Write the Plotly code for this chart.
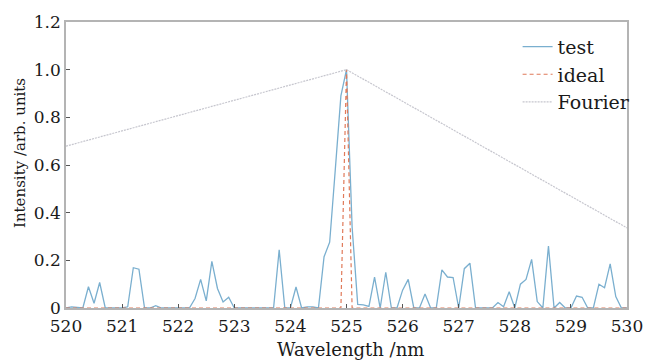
import plotly.graph_objects as go

wavelength = [round(520 + 0.1 * i, 1) for i in range(101)]
test = [
    0.0, 0.005, 0.003, 0.0, 0.089, 0.02, 0.107, 0.0, 0.0, 0.0,      # 520.0-520.9
    0.0, 0.005, 0.169, 0.163, 0.0, 0.0, 0.01, 0.0, 0.0, 0.0,        # 521.0-521.9
    0.0, 0.0, 0.0, 0.04, 0.12, 0.03, 0.196, 0.082, 0.025, 0.045,    # 522.0-522.9
    0.0, 0.0, 0.0, 0.0, 0.003, 0.0, 0.0, 0.0, 0.244, 0.0,           # 523.0-523.9
    0.0, 0.088, 0.0, 0.005, 0.005, 0.0, 0.215, 0.276, 0.58, 0.89,   # 524.0-524.9
    1.0, 0.34, 0.015, 0.013, 0.007, 0.13, 0.0, 0.15, 0.0, 0.0,      # 525.0-525.9
    0.075, 0.12, 0.0, 0.0, 0.059, 0.0, 0.0, 0.16, 0.13, 0.128,      # 526.0-526.9
    0.0, 0.165, 0.188, 0.0, 0.0, 0.0, 0.0, 0.023, 0.005, 0.068,     # 527.0-527.9
    0.0, 0.1, 0.12, 0.204, 0.027, 0.0, 0.26, 0.0, 0.023, 0.0,       # 528.0-528.9
    0.0, 0.05, 0.045, 0.0, 0.0, 0.1, 0.085, 0.185, 0.048, 0.0,      # 529.0-529.9
    0.0,                                                            # 530.0
]

ideal_x = [520, 524.9, 525.0, 525.1, 530]
ideal_y = [0, 0, 1.0, 0, 0]

fourier_x = [520, 525, 530]
fourier_y = [0.679, 1.0, 0.336]

y_ticks = [0, 0.2, 0.4, 0.6, 0.8, 1.0, 1.2]
y_ticktext = ["0", "0.2", "0.4", "0.6", "0.8", "1.0", "1.2"]
x_ticks = [520, 521, 522, 523, 524, 525, 526, 527, 528, 529, 530]

FONT = "DejaVu Serif"
TXT = "#1a1a1a"

fig = go.Figure()
fig.add_trace(go.Scatter(x=wavelength, y=test, mode="lines", name="test",
                         line=dict(color="#7aafcf", width=1.3)))
fig.add_trace(go.Scatter(x=ideal_x, y=ideal_y, mode="lines", name="ideal",
                         line=dict(color="#e07a5a", width=1.2, dash="4px,3px")))
fig.add_trace(go.Scatter(x=fourier_x, y=fourier_y, mode="lines", name="Fourier",
                         line=dict(color="#c6c6ce", width=1.2, dash="2px,1px")))

axis_common = dict(showline=True, linecolor="#b4b4b4", linewidth=1.5, mirror=True,
                   ticks="inside", ticklen=4, tickcolor="#555555", tickwidth=1,
                   showgrid=False, zeroline=False,
                   tickfont=dict(family=FONT, size=17, color=TXT))

fig.update_xaxes(range=[520, 530], tickvals=x_ticks, ticklabelstandoff=2,
                 **axis_common)
fig.update_yaxes(range=[0, 1.2], tickvals=y_ticks, ticktext=y_ticktext,
                 **axis_common)

fig.add_annotation(text="Wavelength /nm",
                   xref="paper", yref="paper", x=0.507, y=-0.144,
                   xanchor="center", yanchor="middle", showarrow=False,
                   font=dict(family=FONT, size=18, color=TXT))
fig.add_annotation(text="Intensity /arb. units", textangle=-90,
                   xref="paper", yref="paper", x=-0.0807, y=0.541,
                   xanchor="center", yanchor="middle", showarrow=False,
                   font=dict(family=FONT, size=15, color=TXT))

fig.update_layout(
    width=655, height=362,
    margin=dict(l=66, r=19, t=16, b=54),
    paper_bgcolor="white", plot_bgcolor="white",
    showlegend=True,
    legend=dict(x=0.805, y=0.98, xanchor="left", yanchor="top",
                bgcolor="rgba(0,0,0,0)", borderwidth=0,
                font=dict(family=FONT, size=19, color=TXT),
                itemwidth=30, tracegroupgap=0),
)

fig.write_html("out.html", config={"displayModeBar": False},
               post_script="document.body.style.margin='0';")
